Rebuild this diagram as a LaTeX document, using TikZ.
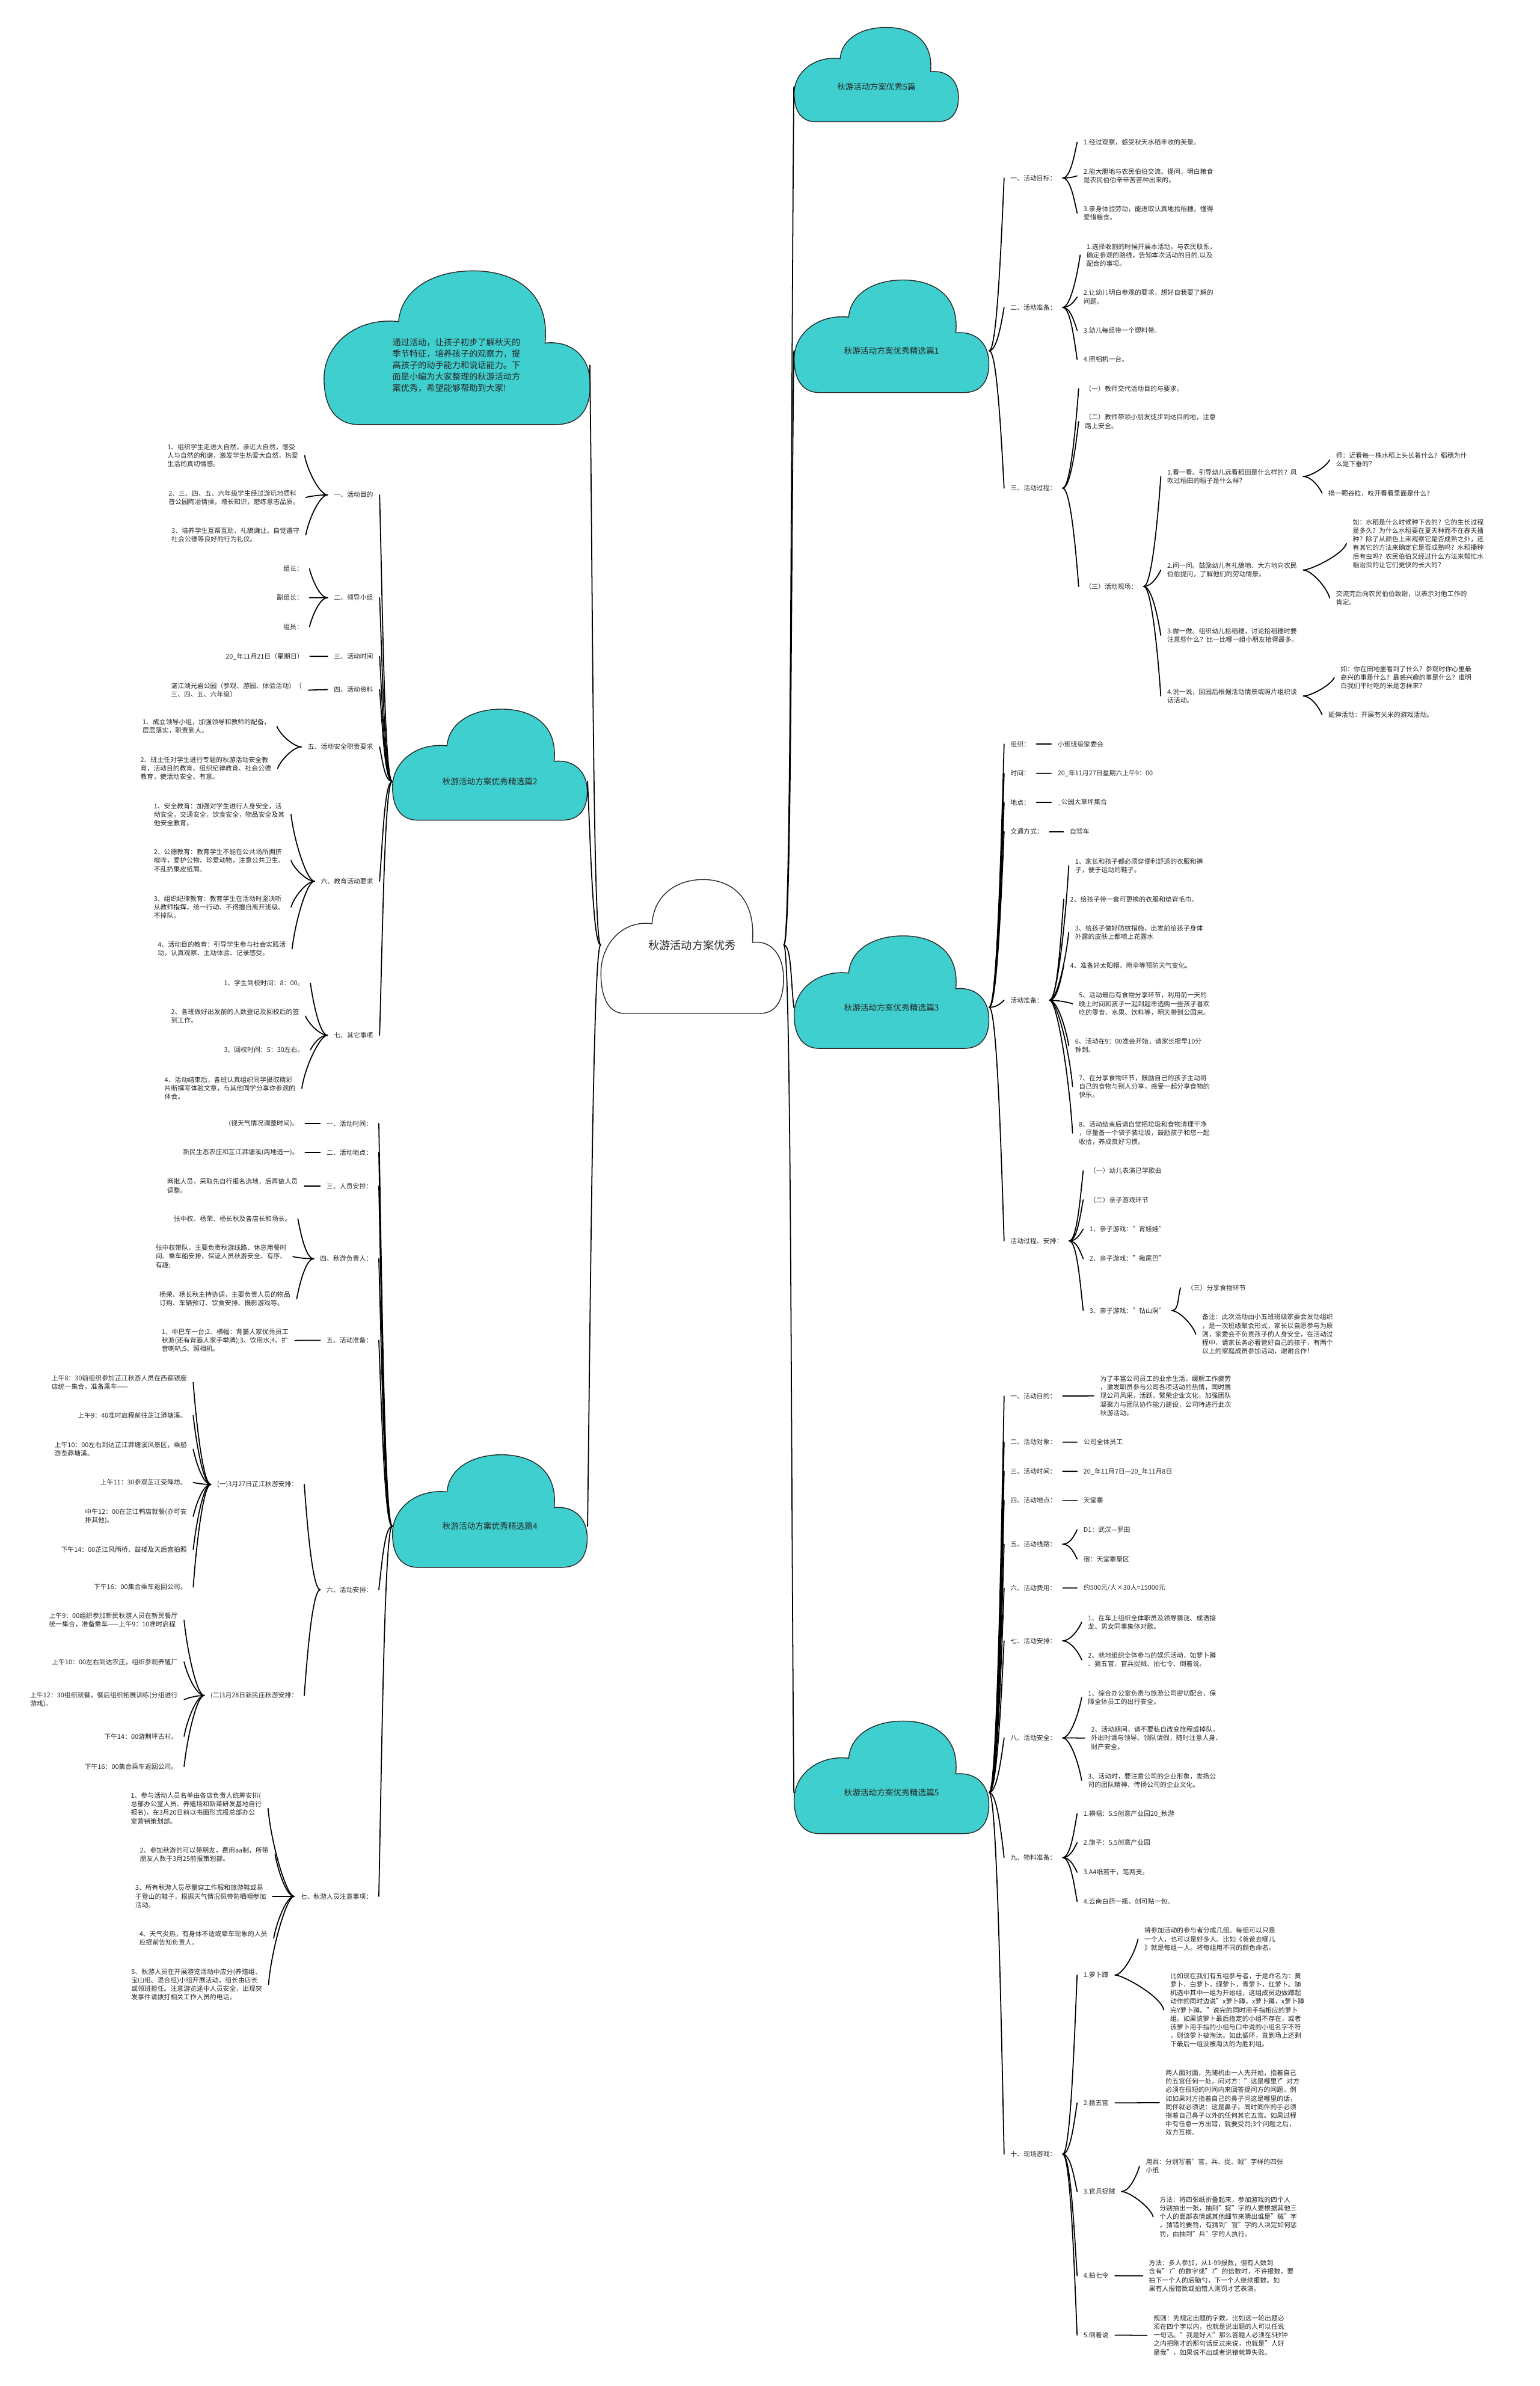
\documentclass[tikz,border=0pt]{standalone}
\usepackage{fontspec}
\setmainfont{Noto Sans CJK SC}
\usepackage{xcolor}
\usetikzlibrary{calc}
\definecolor{cloudteal}{HTML}{40CFCF}

% cloud body: left, top, width, height, fill
\newcommand{\cloudshape}[5]{%
  \begin{scope}[shift={(#1,#2)},xscale=#3,yscale=#4]
    \filldraw[fill=#5,draw=black!85,line width=0.55pt]
      (0.13,1) -- (0.87,1)
      .. controls (0.96,1) and (1,0.9) .. (1,0.74)
      .. controls (1,0.56) and (0.93,0.45) .. (0.83,0.47)
      .. controls (0.85,0.13) and (0.71,0) .. (0.56,0)
      .. controls (0.41,0) and (0.29,0.12) .. (0.28,0.33)
      .. controls (0.12,0.30) and (0,0.48) .. (0,0.70)
      .. controls (0,0.90) and (0.05,1) .. (0.13,1) -- cycle;
  \end{scope}}

\begin{document}
\begin{tikzpicture}[
    x=1pt, y=-1pt,
    every node/.style={font=\fontsize{4.3}{5.6}\selectfont, text=black!85, align=left, inner xsep=4pt, inner ysep=1pt},
    rn/.style={anchor=west},
    ln/.style={anchor=east},
    cloudlabel/.style={font=\fontsize{5.4}{7}\selectfont, anchor=center, align=center, minimum width=128pt},
    link/.style={line width=0.7pt, line cap=round},
    rbr/.style={to path={.. controls ($(\tikztostart)+(5,0)$) and ($(\tikztotarget)!0.4!(\tikztotarget |- \tikztostart)+(-2,0)$) .. (\tikztotarget)}},
    lbr/.style={to path={.. controls ($(\tikztostart)+(-5,0)$) and ($(\tikztotarget)!0.4!(\tikztotarget |- \tikztostart)+(2,0)$) .. (\tikztotarget)}}
]
\useasboundingbox (0,0) rectangle (1012,1568);
\fill[white] (0,0) rectangle (1012,1568);

% clouds
\cloudshape{395}{578}{120}{88}{white}
\cloudshape{522}{18}{108}{62}{cloudteal}
\cloudshape{522}{184}{128}{74}{cloudteal}
\cloudshape{522}{615}{128}{74}{cloudteal}
\cloudshape{522}{1131}{128}{74}{cloudteal}
\cloudshape{213}{178}{175}{101}{cloudteal}
\cloudshape{258}{466}{128}{73}{cloudteal}
\cloudshape{258}{956}{128}{74}{cloudteal}

\node[font=\fontsize{7.2}{9}\selectfont, anchor=center, minimum width=120pt] (root) at (455,621) {秋游活动方案优秀};
\node[cloudlabel, minimum width=108pt] (c0) at (576,57) {秋游活动方案优秀5篇};
\node[cloudlabel] (c1) at (586,230.5) {秋游活动方案优秀精选篇1};
\node[cloudlabel] (c3) at (586,662) {秋游活动方案优秀精选篇3};
\node[cloudlabel] (c5) at (586,1178) {秋游活动方案优秀精选篇5};
\node[cloudlabel] (c2) at (322,513.5) {秋游活动方案优秀精选篇2};
\node[cloudlabel] (c4) at (322,1003) {秋游活动方案优秀精选篇4};
\node[font=\fontsize{5.6}{7.5}\selectfont, anchor=center, minimum width=175pt] (intro) at (300,240) {通过活动，让孩子初步了解秋天的\\季节特征，培养孩子的观察力，提\\高孩子的动手能力和说话能力。下\\面是小编为大家整理的秋游活动方\\案优秀，希望能够帮助到大家!};

% branch 1
\node[rn] (b1a) at (660,117) {一、活动目标：};
\node[rn] (b1a1) at (708,93.5) {1.经过观察，感受秋天水稻丰收的美景。};
\node[rn] (b1a2) at (708,115.6) {2.能大胆地与农民伯伯交流、提问，明白粮食\\是农民伯伯辛辛苦苦种出来的。};
\node[rn] (b1a3) at (708,140) {3.亲身体验劳动，能进取认真地拾稻穗，懂得\\爱惜粮食。};
\node[rn] (b1b) at (660,202) {二、活动准备：};
\node[rn] (b1b1) at (710,167.6) {1.选择收割的时候开展本活动。与农民联系，\\确定参观的路线，告知本次活动的目的.以及\\配合的事项。};
\node[rn] (b1b2) at (708,195.2) {2.让幼儿明白参观的要求，想好自我要了解的\\问题。};
\node[rn] (b1b3) at (708,217.1) {3.幼儿每组带一个塑料带。};
\node[rn] (b1b4) at (708,236.2) {4.照相机一台。};
\node[rn] (b1c) at (660,320.8) {三、活动过程：};
\node[rn] (b1c1) at (709,255.4) {（一）教师交代活动目的与要求。};
\node[rn] (b1c2) at (709,277) {（二）教师带领小朋友徒步到达目的地，注意\\路上安全。};
\node[rn] (b1c3) at (709,385.4) {（三）活动现场：};
\node[rn] (b1d1) at (763,313.1) {1.看一看。引导幼儿远看稻田是什么样的？风\\吹过稻田的稻子是什么样？};
\node[rn] (b1d2) at (763,374.6) {2.问一问。鼓励幼儿有礼貌地、大方地向农民\\伯伯提问，了解他们的劳动情景。};
\node[rn] (b1d3) at (763,417.5) {3.做一做。组织幼儿拾稻穗，讨论拾稻穗时要\\注意些什么？比一比哪一组小朋友拾得最多。};
\node[rn] (b1d4) at (763,457.4) {4.说一说，回园后根据活动情景或照片组织谈\\话活动。};
\node[rn] (b1e1) at (874,302.2) {师：近看每一株水稻上头长着什么？稻穗为什\\么是下垂的？};
\node[rn] (b1e2) at (869,324.1) {摘一颗谷粒，咬开看看里面是什么？};
\node[rn] (b1e3) at (885,357.2) {如：水稻是什么时候种下去的？它的生长过程\\是多久？为什么水稻要在夏天种而不在春天播\\种？除了从颜色上来观察它是否成熟之外，还\\有其它的方法来确定它是否成熟吗？水稻播种\\后有虫吗？农民伯伯又经过什么方法来帮忙水\\稻治虫的让它们更快的长大的？};
\node[rn] (b1e4) at (874,393) {交流完后向农民伯伯致谢，以表示对他工作的\\肯定。};
\node[rn] (b1e5) at (877,445.3) {如：你在田地里看到了什么？参观时你心里最\\高兴的事是什么？最感兴趣的事是什么？谁明\\白我们平时吃的米是怎样来？};
\node[rn] (b1e6) at (869,469.7) {延伸活动：开展有关米的游戏活动。};

% branch 3
\node[rn] (b3a) at (660,489) {组织：};
\node[rn] (b3a1) at (691,489) {小班班级家委会};
\node[rn] (b3b) at (660,508.2) {时间：};
\node[rn] (b3b1) at (691,508.2) {20\_年11月27日星期六上午9：00};
\node[rn] (b3c) at (660,527.3) {地点：};
\node[rn] (b3c1) at (691,527.3) {\_公园大草坪集合};
\node[rn] (b3d) at (660,546.5) {交通方式：};
\node[rn] (b3d1) at (699,546.5) {自驾车};
\node[rn] (b3e) at (660,657.3) {活动准备：};
\node[rn] (b3e1) at (702.5,568.8) {1、家长和孩子都必须穿便利舒适的衣服和裤\\子，便于运动的鞋子。};
\node[rn] (b3e2) at (699.2,590.9) {2、给孩子带一套可更换的衣服和垫背毛巾。};
\node[rn] (b3e3) at (702.5,612.8) {3、给孩子做好防蚊措施，出发前给孩子身体\\外露的皮肤上都喷上花露水};
\node[rn] (b3e4) at (699.2,634.7) {4、准备好太阳帽、雨伞等预防天气变化。};
\node[rn] (b3e5) at (705,659.7) {5、活动最后有食物分享环节，利用前一天的\\晚上时间和孩子一起到超市选购一些孩子喜欢\\吃的零食、水果、饮料等，明天带到公园来。};
\node[rn] (b3e6) at (702.5,687.2) {6、活动在9：00准会开始，请家长提早10分\\钟到。};
\node[rn] (b3e7) at (705,714) {7、在分享食物环节，鼓励自己的孩子主动将\\自己的食物与别人分享，感受一起分享食物的\\快乐。};
\node[rn] (b3e8) at (705,744.6) {8、活动结束后请自觉把垃圾和食物清理干净\\，尽量备一个袋子装垃圾，鼓励孩子和您一起\\收拾，养成良好习惯。};
\node[rn] (b3f) at (660,815.5) {活动过程、安排：};
\node[rn] (b3f1) at (712,769.4) {（一）幼儿表演已学歌曲};
\node[rn] (b3f2) at (712,788.5) {（二）亲子游戏环节};
\node[rn] (b3f3) at (712,807.7) {1、亲子游戏："背娃娃"};
\node[rn] (b3f4) at (712,827.1) {2、亲子游戏："揪尾巴"};
\node[rn] (b3f5) at (712,861.3) {3、亲子游戏："钻山洞"};
\node[rn] (b3g1) at (776,846.3) {（三）分享食物环节};
\node[rn] (b3g2) at (786,876.8) {备注：此次活动由小五班班级家委会发动组织\\，是一次班级聚会形式，家长以自愿参与为原\\则，家委会不负责孩子的人身安全，在活动过\\程中，请家长务必看管好自己的孩子，有两个\\以上的家庭成员参加活动，谢谢合作！};

% branch 5
\node[rn] (b5a) at (660,917.4) {一、活动目的：};
\node[rn] (b5a1) at (719,917.3) {为了丰富公司员工的业余生活，缓解工作疲劳\\，激发职员参与公司各项活动的热情，同时展\\现公司风采，活跃、繁荣企业文化，加强团队\\凝聚力与团队协作能力建设，公司特进行此次\\秋游活动。};
\node[rn] (b5b) at (660,947.7) {二、活动对象：};
\node[rn] (b5b1) at (708,947.7) {公司全体员工};
\node[rn] (b5c) at (660,966.9) {三、活动时间：};
\node[rn] (b5c1) at (708,966.9) {20\_年11月7日—20\_年11月8日};
\node[rn] (b5d) at (660,986) {四、活动地点：};
\node[rn] (b5d1) at (708,986) {天堂寨};
\node[rn] (b5e) at (660,1014.8) {五、活动线路：};
\node[rn] (b5e1) at (708,1005.4) {D1：武汉—罗田};
\node[rn] (b5e2) at (708,1024.5) {宿：天堂寨景区};
\node[rn] (b5f) at (660,1043.6) {六、活动费用：};
\node[rn] (b5f1) at (708,1043.6) {约500元/人×30人=15000元};
\node[rn] (b5g) at (660,1078.3) {七、活动安排：};
\node[rn] (b5g1) at (711,1066) {1、在车上组织全体职员及领导猜谜、成语接\\龙、男女同事集体对歌。};
\node[rn] (b5g2) at (711,1090.8) {2、就地组织全体参与的娱乐活动，如萝卜蹲\\、猜五官、官兵捉贼、拍七令、倒着说。};
\node[rn] (b5h) at (660,1142.1) {八、活动安全：};
\node[rn] (b5h1) at (711,1115.5) {1、综合办公室负责与旅游公司密切配合，保\\障全体员工的出行安全。};
\node[rn] (b5h2) at (713,1142.2) {2、活动期间，请不要私自改变旅程或掉队，\\外出时请与领导、领队请假，随时注意人身、\\财产安全。};
\node[rn] (b5h3) at (711,1170) {3、活动时，要注意公司的企业形象，发扬公\\司的团队精神、传扬公司的企业文化。};
\node[rn] (b5i) at (660,1220.7) {九、物料准备：};
\node[rn] (b5i1) at (708,1191.9) {1.横幅：5.5创意产业园20\_秋游};
\node[rn] (b5i2) at (708,1210.9) {2.旗子：5.5创意产业园};
\node[rn] (b5i3) at (708,1230.4) {3.A4纸若干，笔两支。};
\node[rn] (b5i4) at (708,1249.6) {4.云南白药一瓶，创可贴一包。};
\node[rn] (b5j) at (660,1415.6) {十、现场游戏：};
\node[rn] (b5j1) at (708,1297.9) {1.萝卜蹲};
\node[rn] (b5k1) at (748,1274.3) {将参加活动的参与者分成几组。每组可以只是\\一个人，也可以是好多人。比如《爸爸去哪儿\\》就是每组一人。将每组用不同的颜色命名。};
\node[rn] (b5k2) at (765,1320.9) {比如现在我们有五组参与者，于是命名为：黄\\萝卜，白萝卜，绿萝卜，青萝卜，红萝卜。随\\机选中其中一组为开始组，这组成员边做蹲起\\动作的同时边说"x萝卜蹲，x萝卜蹲，x萝卜蹲\\完Y萝卜蹲。"说完的同时用手指相应的萝卜\\组。如果该萝卜最后指定的小组不存在，或者\\该萝卜用手指的小组与口中说的小组名字不符\\，则该萝卜被淘汰。如此循环，直到场上还剩\\下最后一组没被淘汰的为胜利组。};
\node[rn] (b5j2) at (708,1381.9) {2.猜五官};
\node[rn] (b5k3) at (762,1381.8) {两人面对面，先随机由一人先开始，指着自己\\的五官任何一处，问对方："这是哪里?"对方\\必须在很短的时间内来回答提问方的问题，例\\如如果对方指着自己的鼻子问这是哪里的话，\\同伴就必须说：这是鼻子。同时同伴的手必须\\指着自己鼻子以外的任何其它五官。如果过程\\中有任意一方出错，就要受罚;3个问题之后，\\双方互换。};
\node[rn] (b5j3) at (708,1440.2) {3.官兵捉贼};
\node[rn] (b5k4) at (749,1423.5) {用具：分别写着"官、兵、捉、贼"字样的四张\\小纸};
\node[rn] (b5k5) at (758,1456.8) {方法：将四张纸折叠起来，参加游戏的四个人\\分别抽出一张，抽到"捉"字的人要根据其他三\\个人的面部表情或其他细节来猜出谁是"贼"字\\，猜错的要罚，有猜到"官"字的人决定如何惩\\罚，由抽到"兵"字的人执行。};
\node[rn] (b5j4) at (708,1495.5) {4.拍七令};
\node[rn] (b5k6) at (751,1495.6) {方法：多人参加，从1-99报数，但有人数到\\含有"7"的数字或"7"的倍数时，不许报数，要\\拍下一个人的后脑勺，下一个人继续报数。如\\果有人报错数或拍错人则罚才艺表演。};
\node[rn] (b5j5) at (708,1534.6) {5.倒着说};
\node[rn] (b5k7) at (754,1534.7) {规则：先规定出题的字数，比如这一轮出题必\\须在四个字以内，也就是说出题的人可以任说\\一句话。"我是好人"那么答题人必须在5秒钟\\之内把刚才的那句话反过来说，也就是"人好\\是我"，如果说不出或者说错就算失败。};

% branch 2
\node[ln] (b2a) at (249.5,325.2) {一、活动目的};
\node[ln] (b2a1) at (200.2,299.3) {1、组织学生走进大自然，亲近大自然，感受\\人与自然的和谐，激发学生热爱大自然，热爱\\生活的真切情感。};
\node[ln] (b2a2) at (201,326.9) {2、三、四、五、六年级学生经过游玩地质科\\普公园陶冶情操，增长知识，磨练意志品质。};
\node[ln] (b2a3) at (201,351.5) {3、培养学生互帮互助、礼貌谦让、自觉遵守\\社会公德等良好的行为礼仪。};
\node[ln] (b2b) at (249.5,392.8) {二、领导小组};
\node[ln] (b2b1) at (203.4,373.8) {组长：};
\node[ln] (b2b2) at (203.4,392.8) {副组长：};
\node[ln] (b2b3) at (203.4,411.9) {组员：};
\node[ln] (b2c) at (249.5,431.3) {三、活动时间};
\node[ln] (b2c1) at (203.7,431.3) {20\_年11月21日（星期日）};
\node[ln] (b2d) at (249.5,453.2) {四、活动资料};
\node[ln] (b2d1) at (202.6,453.6) {湛江湖光岩公园（参观、游园、体验活动）（\\三、四、五、六年级）};
\node[ln] (b2e) at (249.5,490.8) {五、活动安全职责要求};
\node[ln] (b2e1) at (182,477.3) {1、成立领导小组，加强领导和教师的配备，\\层层落实，职责到人。};
\node[ln] (b2e2) at (182.5,505) {2、班主任对学生进行专题的秋游活动安全教\\育，活动目的教育、组织纪律教育、社会公德\\教育，使活动安全、有意。};
\node[ln] (b2f) at (249.5,579.1) {六、教育活动要求};
\node[ln] (b2f1) at (191.3,535.2) {1、安全教育：加强对学生进行人身安全，活\\动安全，交通安全，饮食安全，物品安全及其\\他安全教育。};
\node[ln] (b2f2) at (191.3,565.5) {2、公德教育：教育学生不能在公共场所拥挤\\喧哗，爱护公物、珍爱动物，注意公共卫生、\\不乱扔果皮纸屑。};
\node[ln] (b2f3) at (191.3,596.1) {3、组织纪律教育：教育学生在活动时坚决听\\从教师指挥，统一行动、不得擅自离开班级、\\不掉队。};
\node[ln] (b2f4) at (192,623.6) {4、活动目的教育：引导学生参与社会实践活\\动，认真观察、主动体验、记录感受。};
\node[ln] (b2g) at (249.5,680.3) {七、其它事项};
\node[ln] (b2g1) at (204,646) {1、学生到校时间：8：00。};
\node[ln] (b2g2) at (200.8,667.7) {2、各班做好出发前的人数登记及回校后的签\\到工作。};
\node[ln] (b2g3) at (204,690) {3、回校时间：5：30左右。};
\node[ln] (b2g4) at (198.4,715.2) {4、活动结束后，各班认真组织同学摄取精彩\\片断撰写体验文章，与其他同学分享你参观的\\体会。};

% branch 4
\node[ln] (b4a) at (249,738.3) {一、活动时间：};
\node[ln] (b4a1) at (200.5,738.3) {(视天气情况调整时间)。};
\node[ln] (b4b) at (249,757.3) {二、活动地点：};
\node[ln] (b4b1) at (200.5,757.3) {新民生态农庄和芷江莽塘溪(两地选一)。};
\node[ln] (b4c) at (249,779.4) {三、人员安排：};
\node[ln] (b4c1) at (200,779.4) {两批人员，采取先自行报名选地，后再做人员\\调整。};
\node[ln] (b4d) at (249,827.2) {四、秋游负责人：};
\node[ln] (b4d1) at (195.8,801) {张中权、杨荣、杨长秋及各店长和场长。};
\node[ln] (b4d2) at (192.5,825.8) {张中权带队，主要负责秋游线路、休息用餐时\\间、乘车船安排，保证人员秋游安全、有序、\\有趣;};
\node[ln] (b4d3) at (195,853.6) {杨荣、杨长秋主持协调，主要负责人员的物品\\订购、车辆预订、饮食安排、摄影游戏等。};
\node[ln] (b4e) at (249,880.8) {五、活动准备：};
\node[ln] (b4e1) at (193.8,880.9) {1、中巴车一台;2、横幅：背篓人家优秀员工\\秋游(还有背篓人家手举牌);3、饮用水;4、扩\\音喇叭;5、照相机。};
\node[ln] (b4f) at (249,1044.7) {六、活动安排：};
\node[ln] (b4f1) at (200,975.5) {(一)3月27日芷江秋游安排：};
\node[ln] (b4f2) at (200,1114.2) {(二)3月28日新民庄秋游安排：};
\node[ln] (b4h1) at (127,908.4) {上午8：30前组织参加芷江秋游人员在西都银座\\店统一集合，准备乘车——};
\node[ln] (b4h2) at (127,930.2) {上午9：40准时启程前往芷江漭塘溪。};
\node[ln] (b4h3) at (127,952.3) {上午10：00左右到达芷江莽塘溪风景区，乘船\\游览莽塘溪。};
\node[ln] (b4h4) at (127,974.2) {上午11：30参观芷江受降坊。};
\node[ln] (b4h5) at (127,996.5) {中午12：00在芷江鸭店就餐(亦可安\\排其他)。};
\node[ln] (b4h6) at (127,1018.3) {下午14：00芷江风雨桥、鼓楼及天后宫拍照};
\node[ln] (b4h7) at (127,1043) {下午16：00集合乘车返回公司。};
\node[ln] (b4i1) at (121,1064.7) {上午9：00组织参加新民秋游人员在新民餐厅\\统一集合，准备乘车——上午9：10准时启程};
\node[ln] (b4i2) at (121,1092.1) {上午10：00左右到达农庄，组织参观养殖厂};
\node[ln] (b4i3) at (121,1117) {上午12：30组织就餐，餐后组织拓展训练(分组进行\\游戏)。};
\node[ln] (b4i4) at (121,1141.1) {下午14：00游荆坪古村。};
\node[ln] (b4i5) at (121,1161) {下午16：00集合乘车返回公司。};
\node[ln] (b4g) at (249,1246.2) {七、秋游人员注意事项：};
\node[ln] (b4g1) at (176.2,1188.4) {1、参与活动人员名单由各店负责人统筹安排(\\总部办公室人员、养殖场和新菜研发基地自行\\报名)，在3月20日前以书面形式报总部办公\\室营销策划部。};
\node[ln] (b4g2) at (180.8,1218.6) {2、参加秋游的可以带朋友，费用aa制，所带\\朋友人数于3月25前报策划部。};
\node[ln] (b4g3) at (179.1,1246.2) {3、所有秋游人员尽量穿工作服和旅游鞋或易\\于登山的鞋子，根据天气情况佩带防晒帽参加\\活动。};
\node[ln] (b4g4) at (179.9,1273.8) {4、天气炎热，有身体不适或晕车现象的人员\\应提前告知负责人。};
\node[ln] (b4g5) at (176.5,1304) {5、秋游人员在开展游览活动中应分(养殖组、\\宝山组、混合组)小组开展活动，组长由店长\\或领班担任。注意游览途中人员安全，出现突\\发事件请拨打相关工作人员的电话。};

% connectors, right side
\foreach \p/\kids in {root/{c0,c1,c3,c5}, c1/{b1a,b1b,b1c}, b1a/{b1a1,b1a2,b1a3},
    b1b/{b1b1,b1b2,b1b3,b1b4}, b1c/{b1c1,b1c2,b1c3}, b1c3/{b1d1,b1d2,b1d3,b1d4},
    b1d1/{b1e1,b1e2}, b1d2/{b1e3,b1e4}, b1d4/{b1e5,b1e6},
    c3/{b3a,b3b,b3c,b3d,b3e,b3f}, b3a/{b3a1}, b3b/{b3b1}, b3c/{b3c1}, b3d/{b3d1},
    b3e/{b3e1,b3e2,b3e3,b3e4,b3e5,b3e6,b3e7,b3e8}, b3f/{b3f1,b3f2,b3f3,b3f4,b3f5},
    b3f5/{b3g1,b3g2},
    c5/{b5a,b5b,b5c,b5d,b5e,b5f,b5g,b5h,b5i,b5j}, b5a/{b5a1}, b5b/{b5b1}, b5c/{b5c1},
    b5d/{b5d1}, b5e/{b5e1,b5e2}, b5f/{b5f1}, b5g/{b5g1,b5g2}, b5h/{b5h1,b5h2,b5h3},
    b5i/{b5i1,b5i2,b5i3,b5i4}, b5j/{b5j1,b5j2,b5j3,b5j4,b5j5},
    b5j1/{b5k1,b5k2}, b5j2/{b5k3}, b5j3/{b5k4,b5k5}, b5j4/{b5k6}, b5j5/{b5k7}}
  \foreach \c in \kids
    \draw[link] (\p.east) to[rbr] (\c.west);

% connectors, left side
\foreach \p/\kids in {root/{intro,c2,c4}, c2/{b2a,b2b,b2c,b2d,b2e,b2f,b2g},
    b2a/{b2a1,b2a2,b2a3}, b2b/{b2b1,b2b2,b2b3}, b2c/{b2c1}, b2d/{b2d1}, b2e/{b2e1,b2e2},
    b2f/{b2f1,b2f2,b2f3,b2f4}, b2g/{b2g1,b2g2,b2g3,b2g4},
    c4/{b4a,b4b,b4c,b4d,b4e,b4f,b4g}, b4a/{b4a1}, b4b/{b4b1}, b4c/{b4c1},
    b4d/{b4d1,b4d2,b4d3}, b4e/{b4e1}, b4f/{b4f1,b4f2},
    b4f1/{b4h1,b4h2,b4h3,b4h4,b4h5,b4h6,b4h7}, b4f2/{b4i1,b4i2,b4i3,b4i4,b4i5},
    b4g/{b4g1,b4g2,b4g3,b4g4,b4g5}}
  \foreach \c in \kids
    \draw[link] (\p.west) to[lbr] (\c.east);

\end{tikzpicture}
\end{document}
